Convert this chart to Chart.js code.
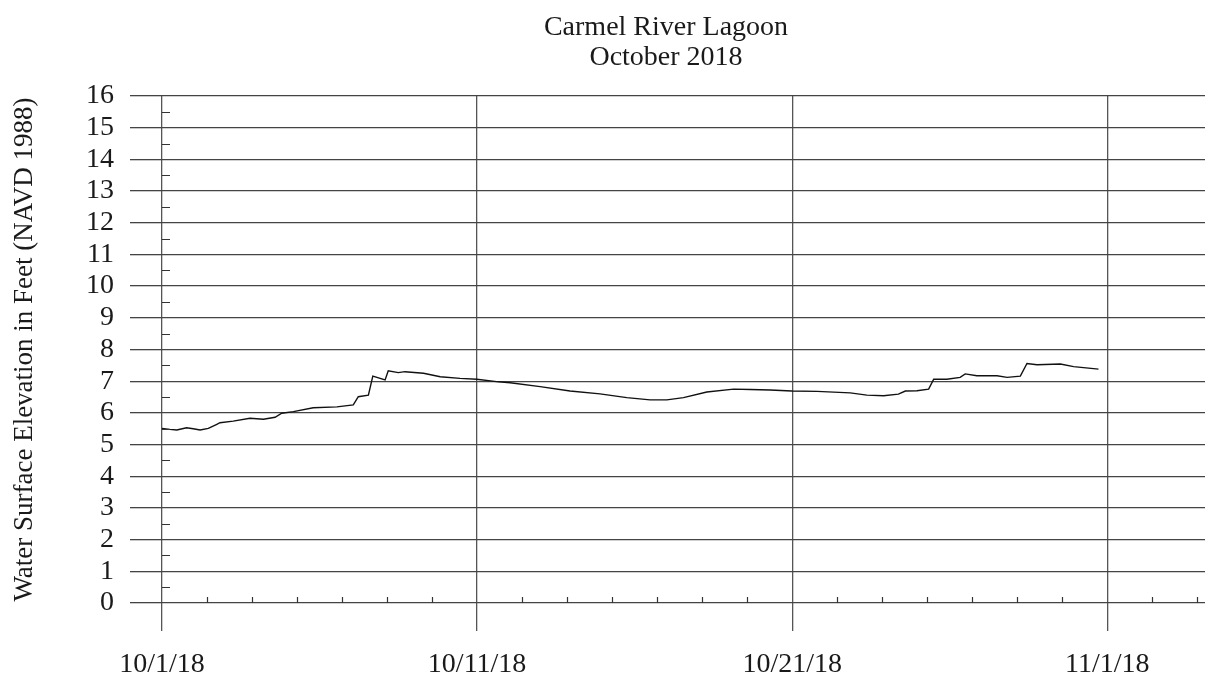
<!DOCTYPE html>
<html>
<head>
<meta charset="utf-8">
<script src="https://cdn.jsdelivr.net/npm/chart.js@4.4.1/dist/chart.umd.min.js"></script>
<style>
  html, body { margin: 0; padding: 0; background: #fff; }
</style>
</head>
<body>
<canvas id="lagoon_chart" width="1205" height="674"></canvas>
<script>
// Chart text
const titleLines = ['Carmel River Lagoon', 'October 2018'];
const yAxisTitle = 'Water Surface Elevation in Feet (NAVD 1988)';

// Major x ticks (days after 10/1/18) and their labels
const tickDays = [0, 10, 20, 30];
const tickLabels = ['10/1/18', '10/11/18', '10/21/18', '11/1/18'];

// Water surface elevation (days after 10/1/18, feet)
const dayOffsets = [
    0.0, 0.25, 0.47, 0.78, 0.99, 1.21, 1.47, 1.74, 1.84, 2.26,
    2.79, 3.22, 3.59, 3.80, 4.17, 4.80, 5.55, 6.07, 6.23, 6.55,
    6.69, 7.08, 7.18, 7.50, 7.71, 8.30, 8.83, 9.46, 9.99, 10.68,
    11.05, 12.0, 12.95, 13.90, 14.75, 15.49, 16.02, 16.55, 17.29, 18.14,
    18.67, 19.30, 19.99, 20.79, 21.84, 22.37, 22.90, 23.37, 23.59, 23.96,
    24.33, 24.49, 24.91, 25.33, 25.49, 25.86, 26.50, 26.82, 27.24, 27.45,
    27.77, 28.51, 28.93, 29.72
];
const elevations = [
    5.51, 5.48, 5.46, 5.53, 5.50, 5.46, 5.51, 5.64, 5.69, 5.74,
    5.83, 5.80, 5.86, 5.99, 6.04, 6.16, 6.19, 6.25, 6.51, 6.56,
    7.16, 7.04, 7.33, 7.27, 7.30, 7.25, 7.14, 7.09, 7.06, 6.98,
    6.95, 6.83, 6.69, 6.60, 6.48, 6.41, 6.41, 6.48, 6.66, 6.75,
    6.74, 6.72, 6.69, 6.68, 6.63, 6.56, 6.54, 6.59, 6.69, 6.70,
    6.75, 7.06, 7.06, 7.12, 7.23, 7.17, 7.17, 7.12, 7.16, 7.56,
    7.52, 7.54, 7.46, 7.38
];

const serif = "'Liberation Serif', 'Times New Roman', serif";
Chart.defaults.font.family = serif;
Chart.defaults.color = '#1a1a1a';

// Draws the two-line title and the short minor ticks along both axes
const extrasPlugin = {
    id: 'extras',
    afterDraw(chart) {
        const ctx = chart.ctx;
        const xs = chart.scales.x;
        const ys = chart.scales.y;
        const area = chart.chartArea;
        ctx.save();
        ctx.strokeStyle = '#333';
        ctx.lineWidth = 1.2;
        ctx.beginPath();
        for (let v = 0.5; v < ys.max; v += 1) {
            const py = Math.round(ys.getPixelForValue(v)) + 0.5;
            ctx.moveTo(area.left, py);
            ctx.lineTo(area.left + 8, py);
        }
        for (let k = 1; k * 10 / 7 <= xs.max; k++) {
            if (k % 7 === 0) continue;
            const px = Math.round(xs.getPixelForValue(k * 10 / 7)) + 0.5;
            ctx.moveTo(px, area.bottom);
            ctx.lineTo(px, area.bottom - 6);
        }
        ctx.stroke();

        ctx.fillStyle = '#1a1a1a';
        ctx.font = '28px ' + serif;
        ctx.textAlign = 'center';
        ctx.textBaseline = 'middle';
        titleLines.forEach((line, i) => ctx.fillText(line, 666, 28 + i * 30));
        ctx.restore();
    }
};

const ctx = document.getElementById('lagoon_chart').getContext('2d');
new Chart(ctx, {
    type: 'line',
    data: {
        datasets: [{
            data: dayOffsets.map((d, i) => ({ x: d, y: elevations[i] })),
            borderColor: '#111',
            borderWidth: 1.4,
            pointRadius: 0,
            tension: 0,
            fill: false,
        }]
    },
    options: {
        responsive: false,
        animation: false,
        layout: { padding: { top: 96, right: 0, bottom: 0, left: 0 } },
        plugins: {
            legend: { display: false },
            title: { display: false },
            tooltip: { enabled: false },
        },
        scales: {
            x: {
                type: 'linear',
                min: 0,
                max: 33.1,
                afterBuildTicks: (scale) => {
                    scale.ticks = tickDays.map(v => ({ value: v }));
                },
                afterFit: (scale) => { scale.height = 71; },
                ticks: {
                    callback: (value) => tickLabels[tickDays.indexOf(value)],
                    autoSkip: false,
                    maxRotation: 0,
                    padding: 17,
                    font: { size: 28 },
                },
                grid: { color: '#555', lineWidth: 1.3, tickLength: 28 },
                border: { display: false },
            },
            y: {
                min: 0,
                max: 16,
                afterFit: (scale) => { scale.width = 162; },
                ticks: {
                    stepSize: 1,
                    autoSkip: false,
                    padding: 16,
                    font: { size: 28 },
                },
                grid: { color: '#444', lineWidth: 1.3, tickLength: 32 },
                border: { display: false },
                title: {
                    display: true,
                    text: yAxisTitle,
                    font: { size: 27 },
                    padding: { top: 9, bottom: 9 },
                },
            },
        },
    },
    plugins: [extrasPlugin],
});
</script>
</body>
</html>
